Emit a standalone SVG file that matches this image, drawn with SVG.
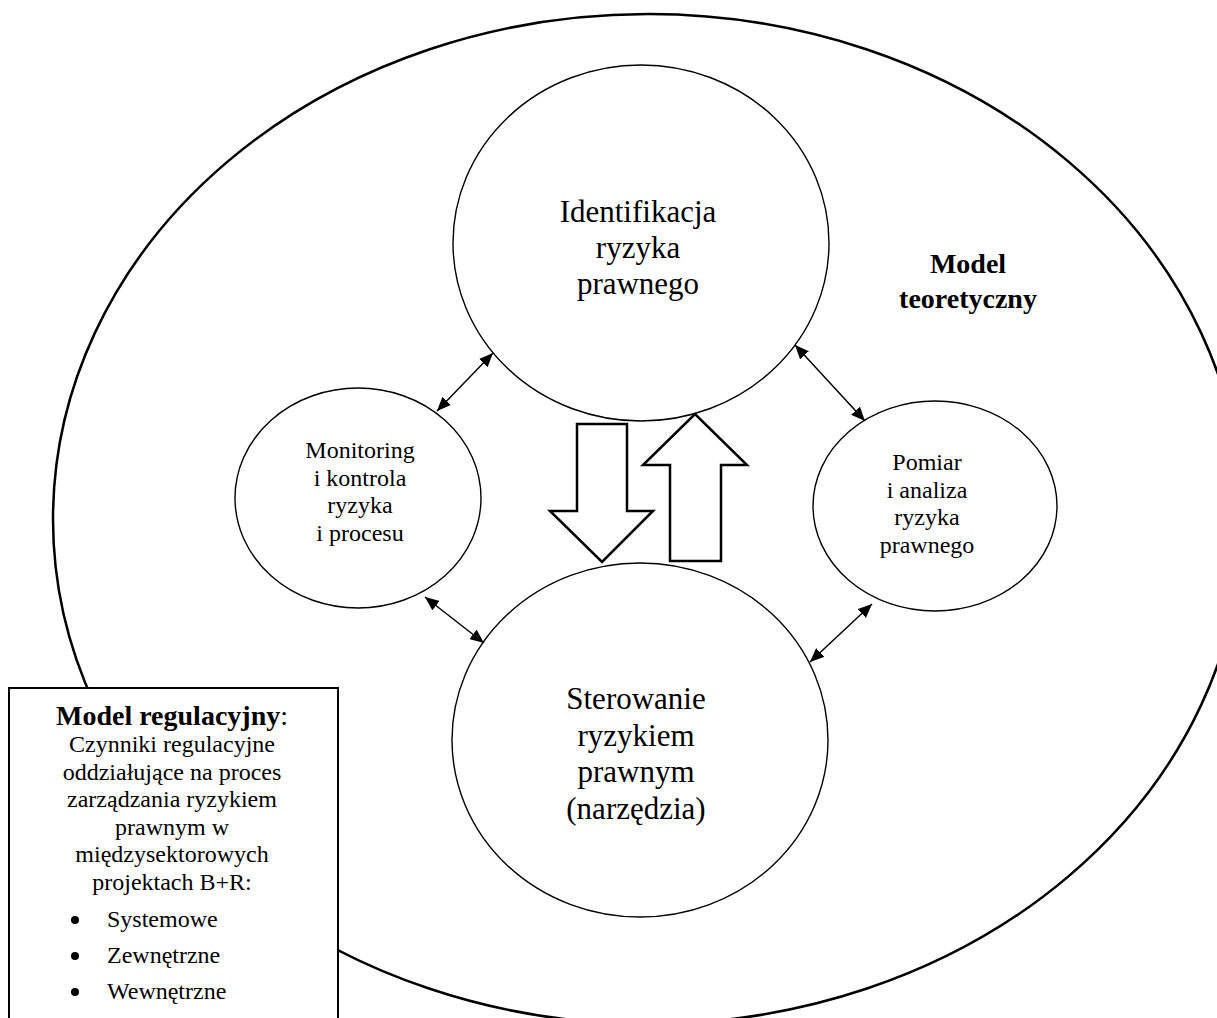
<svg xmlns="http://www.w3.org/2000/svg" width="1217" height="1018" viewBox="0 0 1217 1018">
<style>
.t{font-family:"Liberation Serif","Times New Roman",serif;fill:#000;text-anchor:middle}
.s{text-anchor:start}
.b{font-weight:bold}
.c{fill:#fff;stroke:#000;stroke-width:1.4}
.big{fill:none;stroke:#000;stroke-width:2.5}
.con{stroke:#000;stroke-width:1.5;fill:none;marker-start:url(#ah);marker-end:url(#ah)}
.blk{fill:#fff;stroke:#000;stroke-width:2.5;stroke-linejoin:miter}
</style>
<defs>
<marker id="ah" viewBox="0 0 14 12" refX="14" refY="6" markerWidth="14" markerHeight="12" markerUnits="userSpaceOnUse" orient="auto-start-reverse">
<path d="M0,0 L14,6 L0,12 Z" fill="#000"/>
</marker>
</defs>
<rect width="1217" height="1018" fill="#fff"/>
<g id="model-teoretyczny">
<ellipse class="big" cx="648" cy="519" rx="595" ry="505"/>
<text class="t b" x="968" y="273" font-size="28">Model</text>
<text class="t b" x="968" y="308" font-size="28">teoretyczny</text>
</g>
<g id="identyfikacja">
<ellipse class="c" cx="641" cy="243" rx="188" ry="178"/>
<text class="t" x="638" y="222" font-size="31">Identifikacja</text>
<text class="t" x="638" y="258" font-size="31">ryzyka</text>
<text class="t" x="638" y="294" font-size="31">prawnego</text>
</g>
<g id="monitoring">
<ellipse class="c" cx="358" cy="498" rx="123" ry="110"/>
<text class="t" x="360" y="458" font-size="24">Monitoring</text>
<text class="t" x="360" y="485.5" font-size="24">i kontrola</text>
<text class="t" x="360" y="513" font-size="24">ryzyka</text>
<text class="t" x="360" y="540.5" font-size="24">i procesu</text>
</g>
<g id="pomiar">
<ellipse class="c" cx="935" cy="506" rx="122" ry="105"/>
<text class="t" x="927" y="470" font-size="24">Pomiar</text>
<text class="t" x="927" y="497.5" font-size="24">i analiza</text>
<text class="t" x="927" y="525" font-size="24">ryzyka</text>
<text class="t" x="927" y="552.5" font-size="24">prawnego</text>
</g>
<g id="sterowanie">
<ellipse class="c" cx="640" cy="740" rx="188" ry="177"/>
<text class="t" x="636" y="709" font-size="31">Sterowanie</text>
<text class="t" x="636" y="746" font-size="31">ryzykiem</text>
<text class="t" x="636" y="782" font-size="31">prawnym</text>
<text class="t" x="636" y="819" font-size="31">(narzędzia)</text>
</g>
<g id="strzalki-blokowe">
<path class="blk" d="M577,424 L627,424 L627,511 L653,511 L602,562 L550,511 L577,511 Z"/>
<path class="blk" d="M670,561 L721,561 L721,465 L747,465 L695,414 L643,465 L670,465 Z"/>
</g>
<g id="connectors">
<line class="con" x1="437" y1="411" x2="493" y2="353"/>
<line class="con" x1="795" y1="345" x2="865" y2="421"/>
<line class="con" x1="425" y1="597" x2="484" y2="643"/>
<line class="con" x1="872" y1="604" x2="810" y2="662"/>
</g>
<g id="model-regulacyjny">
<rect x="9" y="688" width="329" height="340" fill="#fff" stroke="#000" stroke-width="2"/>
<text class="t" x="172" y="725" font-size="28"><tspan font-weight="bold">Model regulacyjny</tspan>:</text>
<text class="t" x="172" y="752" font-size="24">Czynniki regulacyjne</text>
<text class="t" x="172" y="779.5" font-size="24">oddziałujące na proces</text>
<text class="t" x="172" y="807" font-size="24">zarządzania ryzykiem</text>
<text class="t" x="172" y="834.5" font-size="24">prawnym w</text>
<text class="t" x="172" y="862" font-size="24">międzysektorowych</text>
<text class="t" x="172" y="889.5" font-size="24">projektach B+R:</text>
<circle cx="75" cy="920" r="4"/>
<circle cx="75" cy="956" r="4"/>
<circle cx="75" cy="992" r="4"/>
<text class="t s" x="107" y="927" font-size="24">Systemowe</text>
<text class="t s" x="107" y="963" font-size="24">Zewnętrzne</text>
<text class="t s" x="107" y="999" font-size="24">Wewnętrzne</text>
</g>
</svg>
